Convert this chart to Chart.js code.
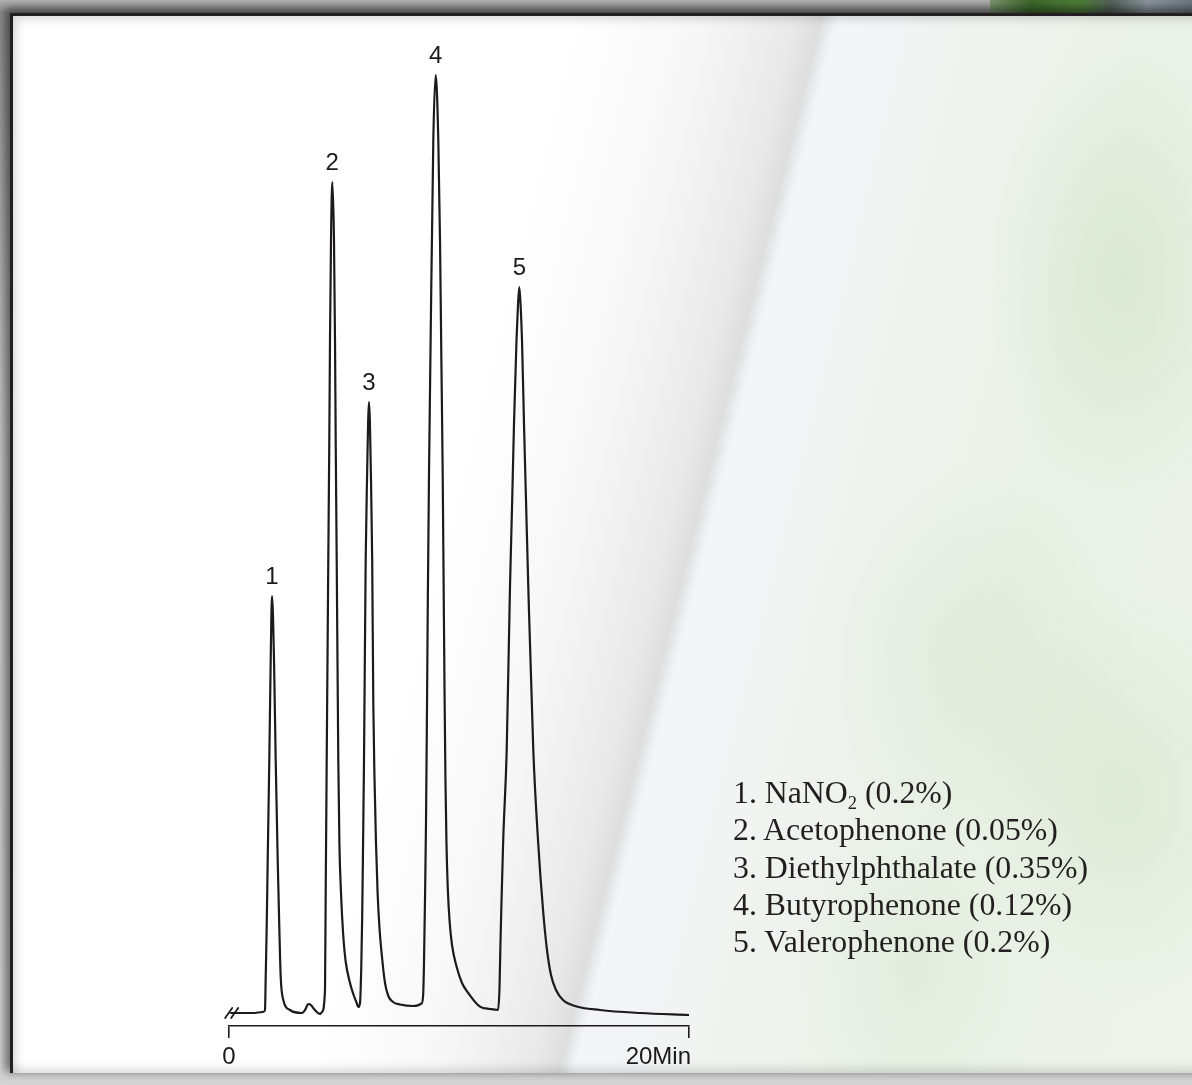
<!DOCTYPE html>
<html>
<head>
<meta charset="utf-8">
<title>Chromatogram</title>
<script src="https://cdn.jsdelivr.net/npm/chart.js@4.4.1/dist/chart.umd.min.js"></script>
<style>
  html, body { margin: 0; padding: 0; }
  #page {
    position: relative;
    width: 1192px;
    height: 1085px;
    overflow: hidden;
    background: linear-gradient(180deg, #b4b4b4 0px, #8e8e8e 12px, #c8c8c8 40%, #d4d4d4 100%);
  }
  #topstrip {
    position: absolute;
    left: 990px;
    top: 0;
    width: 202px;
    height: 14px;
    background: linear-gradient(90deg, #7d9470 0%, #3f6a2c 20%, #4f7f3a 45%, #55625c 60%, #8d979e 78%, #6f7a82 100%);
  }
  #panel {
    position: absolute;
    left: 10px;
    top: 13px;
    right: -20px;
    height: 1060px;
    box-sizing: border-box;
    border-left: 3px solid #231f20;
    border-top: 3px solid #231f20;
    box-shadow: -3px -3px 9px 2px rgba(0, 0, 0, 0.5),
                inset 7px 7px 10px -4px rgba(0, 0, 0, 0.16),
                inset 0 -12px 10px -8px rgba(0, 0, 0, 0.14);
    background:
      radial-gradient(ellipse 200px 340px at 1110px 260px, rgba(200, 222, 190, 0.45), rgba(200, 222, 190, 0) 70%),
      radial-gradient(ellipse 240px 280px at 960px 640px, rgba(208, 227, 200, 0.4), rgba(208, 227, 200, 0) 70%),
      radial-gradient(ellipse 220px 300px at 1110px 780px, rgba(202, 224, 192, 0.4), rgba(202, 224, 192, 0) 70%),
      radial-gradient(ellipse 180px 220px at 900px 950px, rgba(212, 229, 206, 0.35), rgba(212, 229, 206, 0) 70%),
      linear-gradient(104deg, #ffffff 0%, #ffffff 38%, #f7f7f7 47%, #e9e9e9 53.5%, #dedede 55.3%, #f3f5f8 56.4%, #f1f4f3 62%, #eaf1e6 78%, #edf3e9 100%);
  }
  #chart { position: absolute; left: 0; top: 0; }
  #legend {
    position: absolute;
    left: 733px;
    top: 774px;
    font: 31.8px "Liberation Serif", "Times New Roman", serif;
    line-height: 37.3px;
    color: #231f20;
    white-space: nowrap;
  }
  #legend sub { font-size: 58%; line-height: 0; vertical-align: -0.32em; }
</style>
</head>
<body>
<div id="page">
  <div id="topstrip"></div>
  <div id="panel"></div>
  <canvas id="chart" width="1192" height="1085"></canvas>
  <div id="legend"></div>
</div>
<script>
// Trace: retention time (min) and detector signal (arbitrary units)
const traceTime = [
  // baseline and peak 1
  0.05, 0.478, 1.0, 1.478, 1.565, 1.596, 1.639, 1.683, 1.752, 1.813, 1.870,
  1.957, 2.030, 2.117, 2.187, 2.248, 2.361, 2.652, 3.161, 3.304, 3.448, 3.565,
  3.696, 3.957, 4.043,
  // peak 2
  4.174, 4.204, 4.248, 4.317, 4.361, 4.391, 4.435, 4.491,
  4.565, 4.609, 4.639, 4.683, 4.752, 4.800, 4.870, 4.960, 5.070, 5.261, 5.420, 5.552, 5.622,
  // peak 3
  5.696, 5.750, 5.790, 5.826, 5.870, 5.943, 6.0, 6.087, 6.174, 6.226, 6.274,
  6.326, 6.391, 6.461, 6.543, 6.665, 6.783, 6.926, 7.130, 7.435, 8.013, 8.378,
  // peak 4
  8.443, 8.478, 8.526, 8.565, 8.600, 8.643, 8.696, 8.765, 8.883, 8.987,
  9.100, 9.174, 9.230, 9.291, 9.335, 9.372, 9.410, 9.455, 9.510, 9.590, 9.696, 9.900,
  10.130, 10.404, 10.913, 11.348, 11.696,
  // peak 5
  11.761, 11.796, 11.835, 11.922, 12.074, 12.217, 12.313, 12.391, 12.500, 12.565, 12.622,
  12.678, 12.739, 12.826, 12.913, 13.013, 13.230, 13.435, 13.665, 13.826, 14.0, 14.217,
  14.522, 15.043, 16.130, 17.870, 20.0
];
const traceSignal = [
  0, 0, 0, 0.1, 0.3, 3.6, 8.6, 15.3, 25.3, 35.3, 41.7,
  35.3, 25.3, 15.3, 8.6, 3.6, 1.3, 0.3, 0, 0.3, 0.9, 0.8,
  0.4, -0.1, 0.1,
  2.3, 12.0, 25.3, 45.3, 57.3, 67.3, 77.3, 83.1,
  77.3, 67.3, 57.3, 45.3, 25.3, 17.0, 12.0, 8.0, 5.2, 3.0, 1.8, 1.0, 0.6,
  1.0, 4.5, 9.5, 16.3, 25.3, 45.3, 53.3, 61.1, 53.3, 45.3, 31.0,
  23.5, 17.0, 12.0, 8.5, 5.3, 3.0, 1.7, 1.1, 0.85, 0.7, 0.97,
  1.9, 5.0, 12.0, 19.0, 28.0, 41.0, 54.0, 67.0, 87.3, 93.8,
  87.3, 77.3, 66.0, 54.0, 42.0, 32.0, 23.5, 17.0, 12.6, 9.2, 6.8, 4.6,
  3.0, 2.0, 0.63, 0.4, 0.3,
  2.5, 6.3, 10.0, 17.3, 26.3, 42.6, 51.3, 58.9, 67.3, 70.8, 72.6,
  70.8, 67.3, 58.9, 51.3, 42.6, 26.3, 17.3, 10.0, 6.3, 3.8, 2.3,
  1.3, 0.7, 0.3, 0, -0.2
];

const peakNames = ['1', '2', '3', '4', '5'];
const axisTickValues = [0, 20];
const axisTickLabels = ['0', '20Min'];
const legendItems = [
  '1. NaNO<sub>2</sub> (0.2%)',
  '2. Acetophenone (0.05%)',
  '3. Diethylphthalate (0.35%)',
  '4. Butyrophenone (0.12%)',
  '5. Valerophenone (0.2%)'
];

const INK = '#1d1a1b';
const SANS = '"Liberation Sans", Arial, Helvetica, sans-serif';

document.getElementById('legend').innerHTML = legendItems.map(s => '<div>' + s + '</div>').join('');

// small "//" break mark where the trace starts
const breakMark = {
  id: 'breakMark',
  afterDatasetsDraw(chart) {
    const { ctx, scales: { x, y } } = chart;
    const px = x.getPixelForValue(traceTime[0]);
    const py = y.getPixelForValue(traceSignal[0]);
    ctx.save();
    ctx.strokeStyle = INK;
    ctx.lineWidth = 1.8;
    ctx.lineCap = 'round';
    [-3, 3].forEach(dx => {
      ctx.beginPath();
      ctx.moveTo(px + dx - 2, py + 5);
      ctx.lineTo(px + dx + 5, py - 5);
      ctx.stroke();
    });
    ctx.restore();
  }
};

// peak numbers above every local maximum of the trace
const peakLabels = {
  id: 'peakLabels',
  afterDatasetsDraw(chart) {
    const { ctx, scales: { x, y } } = chart;
    const peaks = [];
    for (let i = 1; i < traceSignal.length - 1; i++) {
      if (traceSignal[i] > 30 && traceSignal[i] >= traceSignal[i - 1] && traceSignal[i] > traceSignal[i + 1]) {
        peaks.push(i);
      }
    }
    ctx.save();
    ctx.font = '24px ' + SANS;
    ctx.fillStyle = INK;
    ctx.textAlign = 'center';
    ctx.textBaseline = 'alphabetic';
    peaks.forEach((idx, k) => {
      if (!peakNames[k]) return;
      ctx.fillText(peakNames[k], x.getPixelForValue(traceTime[idx]), y.getPixelForValue(traceSignal[idx]) - 12);
    });
    ctx.restore();
  }
};

// "0" centred on its tick, "20Min" ending at its tick
const axisLabels = {
  id: 'axisLabels',
  afterDraw(chart) {
    const { ctx, chartArea, scales: { x } } = chart;
    ctx.save();
    ctx.font = '24px ' + SANS;
    ctx.fillStyle = INK;
    ctx.textBaseline = 'alphabetic';
    axisTickValues.forEach((v, i) => {
      const last = i === axisTickValues.length - 1;
      ctx.textAlign = last ? 'right' : 'center';
      ctx.fillText(axisTickLabels[i], x.getPixelForValue(v) + (last ? 2 : 0), chartArea.bottom + 38);
    });
    ctx.restore();
  }
};

const points = traceTime.map((t, i) => ({ x: t, y: traceSignal[i] }));

new Chart(document.getElementById('chart').getContext('2d'), {
  type: 'line',
  data: {
    datasets: [{
      data: points,
      borderColor: INK,
      borderWidth: 2.2,
      pointRadius: 0,
      fill: false,
      cubicInterpolationMode: 'monotone'
    }]
  },
  options: {
    responsive: false,
    animation: false,
    devicePixelRatio: 1,
    layout: { padding: { left: 229, right: 503, top: 43, bottom: 19 } },
    scales: {
      x: {
        type: 'linear',
        min: axisTickValues[0],
        max: axisTickValues[axisTickValues.length - 1],
        ticks: { display: false, stepSize: 20 },
        grid: { drawOnChartArea: false, drawTicks: true, tickLength: 12, color: INK, lineWidth: 1.6 },
        border: { display: true, color: INK, width: 1.6 },
        afterFit(scale) {
          scale.height = 40;
          scale.paddingLeft = 0;
          scale.paddingRight = 0;
        }
      },
      y: { display: false, min: -1.3, max: 97 }
    },
    plugins: {
      legend: { display: false },
      tooltip: { enabled: false }
    }
  },
  plugins: [breakMark, peakLabels, axisLabels]
});
</script>
</body>
</html>
